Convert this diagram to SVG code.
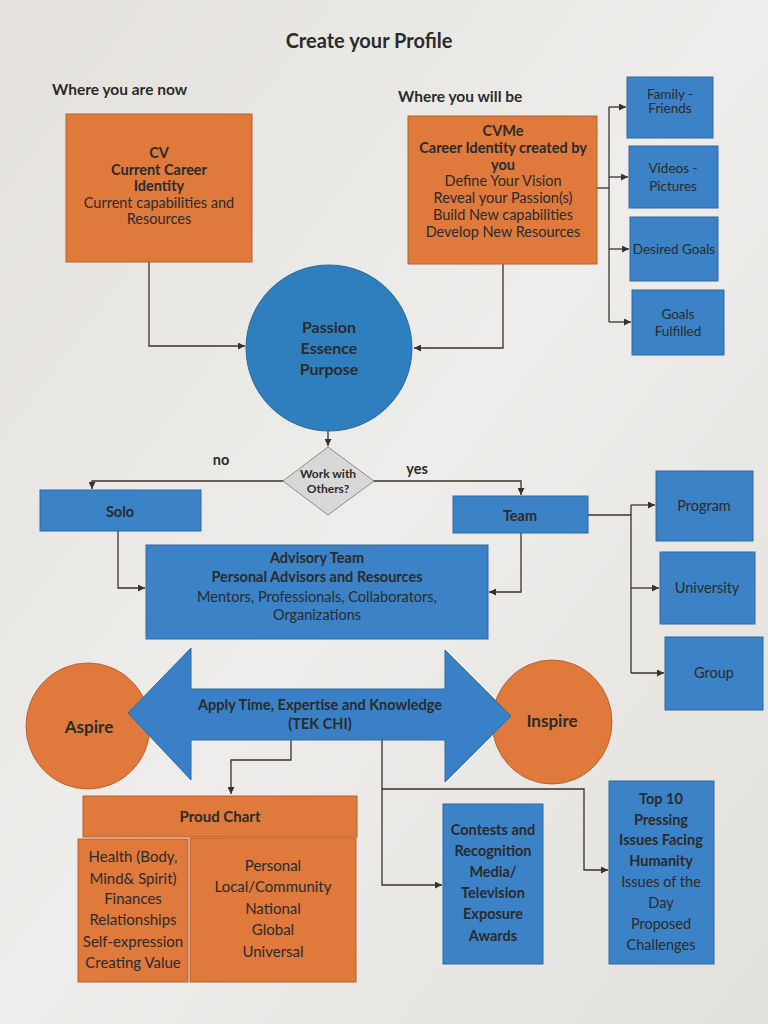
<svg xmlns="http://www.w3.org/2000/svg" width="768" height="1024" viewBox="0 0 768 1024">
<defs>
<marker id="ah" viewBox="0 0 10 10" refX="10" refY="5" markerWidth="7" markerHeight="7" orient="auto" markerUnits="userSpaceOnUse">
<path d="M0,0 L10,5 L0,10 z" fill="#3a3228"/>
</marker>
<linearGradient id="bg" x1="0" y1="0" x2="1" y2="1">
<stop offset="0" stop-color="#e4e1dc"/>
<stop offset="0.5" stop-color="#eeedeb"/>
<stop offset="1" stop-color="#e2e0dc"/>
</linearGradient>
</defs>
<style>
text{font-family:Lato,"Liberation Sans",sans-serif;fill:#2b2b2b;text-anchor:middle}
.b{font-weight:bold}
.or{fill:#df793c;stroke:#b9612f;stroke-width:1}
.bl{fill:#3b82c6;stroke:#2f6aa3;stroke-width:1}
.cn{fill:none;stroke:#3a3228;stroke-width:1.3}
.t13{font-size:13.5px}
.t14{font-size:14.5px}
.t15{font-size:15px}
</style>
<rect width="768" height="1024" fill="url(#bg)"/>

<text x="369" y="48" class="b" style="font-size:20px">Create your Profile</text>
<text x="52" y="95" class="b" style="text-anchor:start;font-size:15.5px">Where you are now</text>
<text x="398" y="102" class="b" style="text-anchor:start;font-size:15.5px">Where you will be</text>

<g id="connectors">
<path class="cn" d="M149,262 V346 H245" marker-end="url(#ah)"/>
<path class="cn" d="M503,264 V348 H414" marker-end="url(#ah)"/>
<path class="cn" d="M597,188 H609"/>
<path class="cn" d="M609,107 V322"/>
<path class="cn" d="M609,107 H626" marker-end="url(#ah)"/>
<path class="cn" d="M609,177 H628" marker-end="url(#ah)"/>
<path class="cn" d="M609,249 H629" marker-end="url(#ah)"/>
<path class="cn" d="M609,322 H631" marker-end="url(#ah)"/>
<path class="cn" d="M328,430 V446" marker-end="url(#ah)"/>
<path class="cn" d="M283,481 H92 V489" marker-end="url(#ah)"/>
<path class="cn" d="M374,481 H521 V495" marker-end="url(#ah)"/>
<path class="cn" d="M118,531 V588 H145" marker-end="url(#ah)"/>
<path class="cn" d="M521,533 V592 H489" marker-end="url(#ah)"/>
<path class="cn" d="M588,515 H631"/>
<path class="cn" d="M631,505 V673"/>
<path class="cn" d="M631,505 H655" marker-end="url(#ah)"/>
<path class="cn" d="M631,588 H659" marker-end="url(#ah)"/>
<path class="cn" d="M631,673 H664" marker-end="url(#ah)"/>
<path class="cn" d="M291,740 V760 H231 V794" marker-end="url(#ah)"/>
<path class="cn" d="M382,740 V885 H442" marker-end="url(#ah)"/>
<path class="cn" d="M382,789 H584 V870 H608" marker-end="url(#ah)"/>
</g>

<g id="cv">
<rect class="or" x="66" y="114" width="186" height="148"/>
<text x="159" y="158" class="b t14">CV</text>
<text x="159" y="175" class="b t14">Current Career</text>
<text x="159" y="191" class="b t14">Identity</text>
<text x="159" y="208" class="t14">Current capabilities and</text>
<text x="159" y="224" class="t14">Resources</text>
</g>

<g id="cvme">
<rect class="or" x="408" y="116" width="189" height="148"/>
<text x="503" y="136" class="b t14">CVMe</text>
<text x="503" y="153" class="b t14">Career Identity created by</text>
<text x="503" y="170" class="b t14">you</text>
<text x="503" y="186" class="t14">Define Your Vision</text>
<text x="503" y="203" class="t14">Reveal your Passion(s)</text>
<text x="503" y="220" class="t14">Build New capabilities</text>
<text x="503" y="237" class="t14">Develop New Resources</text>
</g>

<g id="family">
<rect class="bl" x="627" y="77" width="86" height="61"/>
<text x="670" y="99" class="t13">Family -</text>
<text x="670" y="113" class="t13">Friends</text>
</g>
<g id="videos">
<rect class="bl" x="629" y="146" width="89" height="62"/>
<text x="673" y="173" class="t13">Videos -</text>
<text x="673" y="191" class="t13">Pictures</text>
</g>
<g id="desired">
<rect class="bl" x="630" y="217" width="88" height="64"/>
<text x="674" y="254" class="t13">Desired Goals</text>
</g>
<g id="fulfilled">
<rect class="bl" x="632" y="290" width="92" height="65"/>
<text x="678" y="319" class="t13">Goals</text>
<text x="678" y="336" class="t13">Fulfilled</text>
</g>

<g id="passion">
<circle cx="329" cy="348" r="83" fill="#2f7fbf" stroke="#276aa0" stroke-width="1"/>
<text x="329" y="333" class="b" style="font-size:16px">Passion</text>
<text x="329" y="354" class="b" style="font-size:16px">Essence</text>
<text x="329" y="375" class="b" style="font-size:16px">Purpose</text>
</g>

<g id="decision">
<polygon points="328,447 374,481 328,515 283,481" fill="#d8d8d6" stroke="#8a8a88" stroke-width="1"/>
<text x="328" y="478" class="b" style="font-size:12px">Work with</text>
<text x="328" y="493" class="b" style="font-size:12px">Others?</text>
</g>
<text x="221" y="465" class="b t14">no</text>
<text x="417" y="474" class="b t14">yes</text>

<g id="solo">
<rect class="bl" x="40" y="490" width="161" height="41"/>
<text x="120" y="517" class="b t14">Solo</text>
</g>
<g id="team">
<rect class="bl" x="453" y="496" width="135" height="37"/>
<text x="520" y="521" class="b t14">Team</text>
</g>

<g id="advisory">
<rect class="bl" x="146" y="545" width="342" height="94"/>
<text x="317" y="563" class="b t14">Advisory Team</text>
<text x="317" y="582" class="b t14">Personal Advisors and Resources</text>
<text x="317" y="602" class="t14">Mentors, Professionals, Collaborators,</text>
<text x="317" y="620" class="t14">Organizations</text>
</g>

<g id="program">
<rect class="bl" x="656" y="471" width="97" height="70"/>
<text x="704" y="511" class="t14">Program</text>
</g>
<g id="university">
<rect class="bl" x="660" y="552" width="95" height="72"/>
<text x="707" y="593" class="t14">University</text>
</g>
<g id="group">
<rect class="bl" x="665" y="637" width="98" height="73"/>
<text x="714" y="678" class="t14">Group</text>
</g>

<g id="aspire">
<ellipse cx="88" cy="726" rx="62" ry="63" class="or"/>
<text x="89" y="733" class="b" style="font-size:17px">Aspire</text>
</g>
<g id="inspire">
<ellipse cx="552" cy="722" rx="60" ry="62" class="or"/>
<text x="552" y="727" class="b" style="font-size:17px">Inspire</text>
</g>

<g id="tekchi">
<polygon points="128,713 191,648 191,689 445,689 445,650 511,716 445,782 445,740 191,740 191,780" fill="#3a80c6" stroke="#2f6aa3" stroke-width="1"/>
<text x="320" y="710" class="b" style="font-size:14.5px">Apply Time, Expertise and Knowledge</text>
<text x="320" y="729" class="b" style="font-size:14.5px">(TEK CHI)</text>
</g>

<g id="proud">
<rect class="or" x="83" y="796" width="274" height="41"/>
<text x="220" y="822" class="b t15">Proud Chart</text>
<rect class="or" x="78" y="839" width="110" height="143"/>
<text x="133" y="862" class="t15">Health (Body,</text>
<text x="133" y="884" class="t15">Mind&amp; Spirit)</text>
<text x="133" y="904" class="t15">Finances</text>
<text x="133" y="925" class="t15">Relationships</text>
<text x="133" y="947" class="t15">Self-expression</text>
<text x="133" y="968" class="t15">Creating Value</text>
<rect class="or" x="190" y="838" width="166" height="144"/>
<text x="273" y="871" class="t15">Personal</text>
<text x="273" y="892" class="t15">Local/Community</text>
<text x="273" y="914" class="t15">National</text>
<text x="273" y="935" class="t15">Global</text>
<text x="273" y="957" class="t15">Universal</text>
</g>

<g id="contests">
<rect class="bl" x="443" y="804" width="100" height="160"/>
<text x="493" y="835" class="b t14">Contests and</text>
<text x="493" y="856" class="b t14">Recognition</text>
<text x="493" y="877" class="b t14">Media/</text>
<text x="493" y="898" class="b t14">Television</text>
<text x="493" y="919" class="b t14">Exposure</text>
<text x="493" y="941" class="b t14">Awards</text>
</g>

<g id="top10">
<rect class="bl" x="609" y="781" width="105" height="183"/>
<text x="661" y="804" class="b t14">Top 10</text>
<text x="661" y="825" class="b t14">Pressing</text>
<text x="661" y="845" class="b t14">Issues Facing</text>
<text x="661" y="866" class="b t14">Humanity</text>
<text x="661" y="887" class="t14">Issues of the</text>
<text x="661" y="908" class="t14">Day</text>
<text x="661" y="929" class="t14">Proposed</text>
<text x="661" y="950" class="t14">Challenges</text>
</g>
</svg>
